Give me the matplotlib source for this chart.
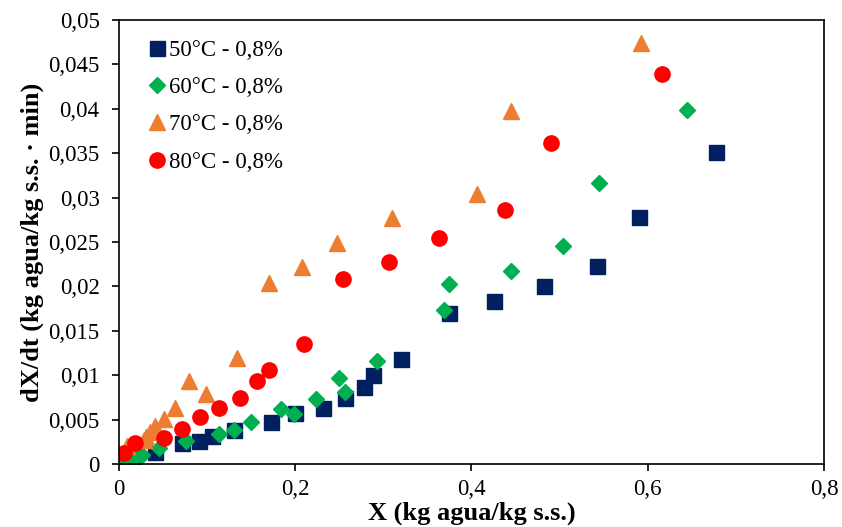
import matplotlib
matplotlib.use('Agg')
import matplotlib.pyplot as plt
from matplotlib.ticker import FuncFormatter, MultipleLocator

plt.rcParams['font.family'] = ['Liberation Serif', 'DejaVu Serif']

# 50°C - 0,8%
x50 = [0.003, 0.016, 0.041, 0.071, 0.091, 0.106, 0.130, 0.172, 0.200, 0.232,
       0.257, 0.278, 0.288, 0.320, 0.375, 0.425, 0.482, 0.543, 0.590, 0.678]
y50 = [0.00045, 0.0006, 0.0014, 0.0024, 0.0026, 0.0032, 0.0038, 0.0047, 0.0057, 0.0063,
       0.0074, 0.0087, 0.0100, 0.0118, 0.0170, 0.0184, 0.0200, 0.0223, 0.0278, 0.0351]
# 60°C - 0,8%
x60 = [0.005, 0.012, 0.020, 0.026, 0.045, 0.076, 0.114, 0.131, 0.150, 0.184, 0.199,
       0.224, 0.250, 0.257, 0.293, 0.369, 0.374, 0.445, 0.504, 0.545, 0.644]
y60 = [0.0005, 0.0007, 0.0009, 0.0010, 0.0018, 0.0026, 0.0034, 0.0038, 0.0047, 0.0062, 0.0056,
       0.0073, 0.0097, 0.0081, 0.0116, 0.0173, 0.0203, 0.0217, 0.0246, 0.0316, 0.0399]
# 70°C - 0,8%
x70 = [0.009, 0.028, 0.031, 0.035, 0.041, 0.051, 0.064, 0.080, 0.099, 0.134,
       0.170, 0.208, 0.247, 0.310, 0.406, 0.445, 0.592]
y70 = [0.0020, 0.0027, 0.0030, 0.0036, 0.0043, 0.0051, 0.0063, 0.0094, 0.0079, 0.0119,
       0.0204, 0.0222, 0.0249, 0.0277, 0.0304, 0.0398, 0.0474]
# 80°C - 0,8%
x80 = [0.006, 0.018, 0.051, 0.071, 0.092, 0.113, 0.137, 0.157, 0.170, 0.210,
       0.254, 0.306, 0.363, 0.438, 0.490, 0.616]
y80 = [0.0012, 0.0024, 0.0029, 0.0039, 0.0053, 0.0063, 0.0074, 0.0093, 0.0106, 0.0135,
       0.0208, 0.0228, 0.0255, 0.0286, 0.0361, 0.0439]

fig = plt.figure(figsize=(8.42, 5.27), dpi=100)
ax = fig.add_axes([0.1413, 0.1195, 0.8373, 0.8425])

ax.plot(x50, y50, 's', color='#002060', markersize=10.8, linestyle='none', label='50°C - 0,8%')
ax.plot(x60, y60, 'D', color='#00B050', markersize=8.2, linestyle='none', label='60°C - 0,8%')
ax.plot(x70, y70, '^', color='#ED7D31', markersize=11, linestyle='none', label='70°C - 0,8%')
ax.plot(x80, y80, 'o', color='#FF0000', markersize=11, linestyle='none', label='80°C - 0,8%')

ax.set_xlim(0, 0.8)
ax.set_ylim(0, 0.05)
ax.xaxis.set_major_locator(MultipleLocator(0.2))
ax.yaxis.set_major_locator(MultipleLocator(0.005))
fmt = FuncFormatter(lambda v, p: ('%g' % round(v, 4)).replace('.', ','))
ax.xaxis.set_major_formatter(fmt)
ax.yaxis.set_major_formatter(fmt)
ax.tick_params(direction='out', length=5, width=1.2, labelsize=16.5)
ax.tick_params(axis='y', pad=9)
ax.tick_params(axis='x', pad=6)
for s in ax.spines.values():
    s.set_linewidth(1.2)

ax.set_xlabel('X (kg agua/kg s.s.)', fontsize=19, fontweight='bold', labelpad=1)
ax.set_ylabel('dX/dt (kg agua/kg s.s. · min)', fontsize=19, fontweight='bold', labelpad=3)

ax.legend(loc='upper left', bbox_to_anchor=(0.011, 0.997), frameon=False, fontsize=16.5,
          handletextpad=0.05, handlelength=1.0, labelspacing=0.71, borderpad=0.3)

fig.savefig('out.png', dpi=100)
